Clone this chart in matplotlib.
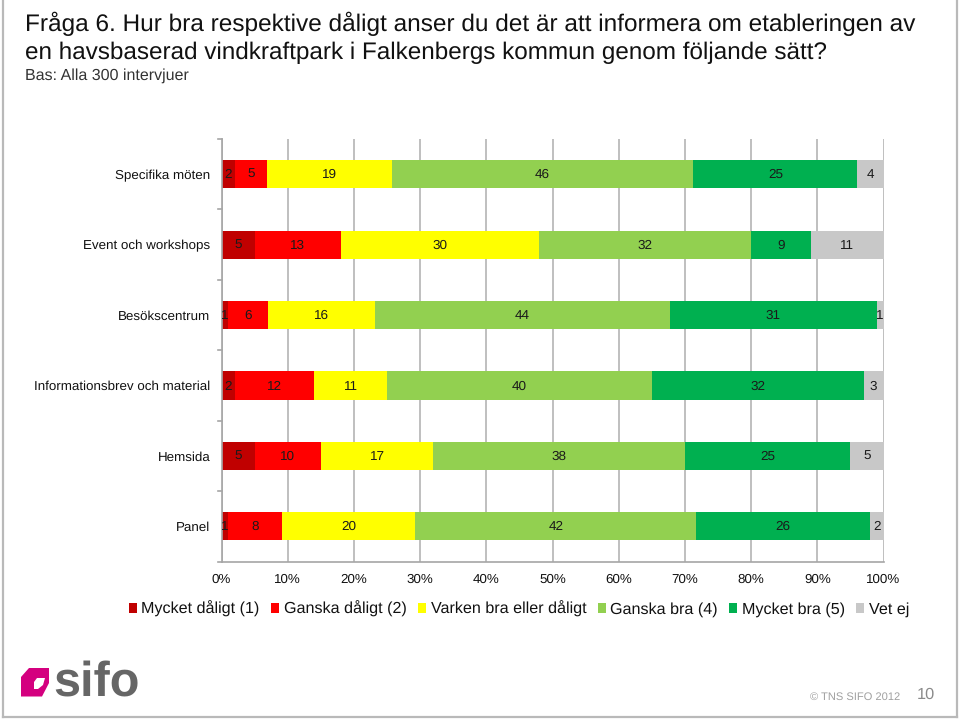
import matplotlib
matplotlib.use("Agg")
import matplotlib.pyplot as plt
from matplotlib.patches import Polygon
from matplotlib.lines import Line2D

plt.rcParams['font.family'] = ['Liberation Sans', 'DejaVu Sans']
plt.rcParams['text.hinting'] = 'no_hinting'
plt.rcParams['text.hinting_factor'] = 8

categories = ["Specifika möten", "Event och workshops", "Besökscentrum",
              "Informationsbrev och material", "Hemsida", "Panel"]
series_names = ["Mycket dåligt (1)", "Ganska dåligt (2)", "Varken bra eller dåligt",
                "Ganska bra (4)", "Mycket bra (5)", "Vet ej"]
mycket_daligt = [2, 5, 1, 2, 5, 1]
ganska_daligt = [5, 13, 6, 12, 10, 8]
varken = [19, 30, 16, 11, 17, 20]
ganska_bra = [46, 32, 44, 40, 38, 42]
mycket_bra = [25, 9, 31, 32, 25, 26]
vet_ej = [4, 11, 1, 3, 5, 2]
colors = ["#C00000", "#FF0000", "#FFFF00", "#92D050", "#00B050", "#C8C8C8"]
series = [mycket_daligt, ganska_daligt, varken, ganska_bra, mycket_bra, vet_ej]
xticks = [0, 10, 20, 30, 40, 50, 60, 70, 80, 90, 100]

W, H = 960, 719
fig = plt.figure(figsize=(W / 100, H / 100), dpi=100, facecolor="white")
ax = fig.add_axes([221.5 / W, 1 - 561.5 / H, 662 / W, 422.5 / H])
ax.set_axisbelow(True)
ax.set_xlim(0, 100)
ax.set_ylim(len(categories) - 0.5, -0.5)

totals = [sum(s[i] for s in series) for i in range(len(categories))]
lefts = [0.0] * len(categories)
for vals, col, name in zip(series, colors, series_names):
    widths = [v / t * 100 for v, t in zip(vals, totals)]
    ax.barh(range(len(categories)), widths, left=lefts, height=0.4, color=col, label=name, linewidth=0)
    for i, (w, l, v) in enumerate(zip(widths, lefts, vals)):
        ax.text(l + w / 2, i + 0.01, str(v), ha="center", va="center", fontsize=9.7, color="#1a1a1a")
    lefts = [l + w for l, w in zip(lefts, widths)]

ax.set_xticks(xticks)
ax.set_xticklabels([f"{x}%" for x in xticks], fontsize=9.65, color="#111111")
ax.set_yticks(range(len(categories)))
ax.set_yticklabels(categories, fontsize=9.65, color="#111111")
ax.tick_params(axis="y", length=0, pad=8)
ax.tick_params(axis="x", length=0, pad=8.5)
ax.grid(axis="x", color="#B4B4B4", linewidth=1.2)
ax.grid(axis="y", visible=False)
for s in ["top", "right"]:
    ax.spines[s].set_visible(False)
for s in ["left", "bottom"]:
    ax.spines[s].set_color("#A6A6A6")
    ax.spines[s].set_linewidth(1.2)
for k in range(len(categories) + 1):
    ax.plot([-0.6, 0], [k - 0.5, k - 0.5], color="#A6A6A6", lw=1.2, clip_on=False)

handles, labels = ax.get_legend_handles_labels()
fig.legend(handles, labels, loc="center left", bbox_to_anchor=(129 / W, 1 - 609 / H), ncol=6, frameon=False,
           fontsize=11.6, handlelength=0.5, handleheight=0.5, handletextpad=0.27, columnspacing=0.72,
           borderaxespad=0, borderpad=0.0, labelcolor="#111111")

fig.text(25 / W, 1 - 24 / H, "Fråga 6. Hur bra respektive dåligt anser du det är att informera om etableringen av",
         fontsize=17.56, color="#111111", va="center")
fig.text(25 / W, 1 - 52.5 / H, "en havsbaserad vindkraftpark i Falkenbergs kommun genom följande sätt?",
         fontsize=17.43, color="#111111", va="center")
fig.text(25 / W, 1 - 76 / H, "Bas: Alla 300 intervjuer", fontsize=11.5, color="#333333", va="center")

# slide frame
for xs, ys in [([2.5, 2.5], [0, 716.5]), ([2.5, 957], [716.5, 716.5]), ([957, 957], [0, 716.5])]:
    fig.add_artist(Line2D([x / W for x in xs], [1 - y / H for y in ys], color="#B9B9B9", lw=1.6))

# logo
logo_pts = [(21, 677), (29, 668), (49, 668), (49, 683), (42, 696.5), (21, 696.5)]
fig.add_artist(Polygon([(x / W, 1 - y / H) for x, y in logo_pts], closed=True, facecolor="#D4007F",
                       edgecolor="none", transform=fig.transFigure))
hole = [(34, 682), (37, 678), (45, 678), (43, 685), (38, 689), (34, 689)]
fig.add_artist(Polygon([(x / W, 1 - y / H) for x, y in hole], closed=True, facecolor="white",
                       edgecolor="none", transform=fig.transFigure))
fig.text(53 / W, 1 - 696 / H, "sifo", fontsize=35, fontweight="bold", color="#666666", va="baseline")

fig.text(810 / W, 1 - 697 / H, "© TNS SIFO 2012", fontsize=8.0, color="#A0A0A0", va="center")
fig.text(917 / W, 1 - 695 / H, "10", fontsize=11.8, color="#8A8A8A", va="center")

fig.savefig("out.png", dpi=100)
